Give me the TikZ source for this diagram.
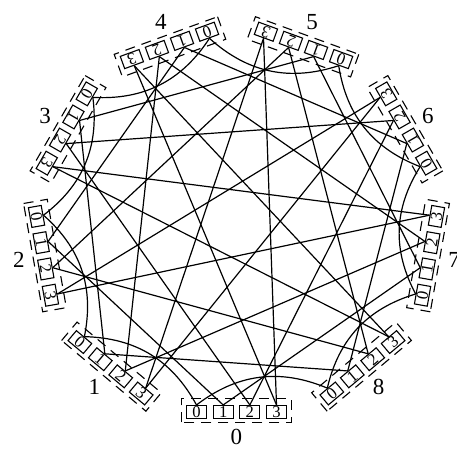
\documentclass[tikz,border=0pt]{standalone}
\usepackage{fontspec}
\setmainfont{Liberation Serif}
\usepackage{tikz}

\begin{document}
\begin{tikzpicture}[
		x=0.5pt, y=0.5pt,
		portbox/.style={
			draw,
			line width=0.55pt,
			minimum width=10pt,
			minimum height=6.5pt,
			inner sep=0pt,
			font=\fontsize{8.3}{8.3}\selectfont
		},
		groupbox/.style={draw, line width=0.55pt, dash pattern=on 5pt off 3.5pt},
		grouplabel/.style={font=\fontsize{11.5}{12}\selectfont},
		link/.style={line width=0.6pt}
	]
		\useasboundingbox (0,0) rectangle (457,451);
		% groups of four routers around the ring
		\foreach \g in {0,...,8}{
			\pgfmathsetmacro{\ang}{270-40*\g}
			\pgfmathsetmacro{\gx}{236.5+196*cos(\ang)}
			\pgfmathsetmacro{\gy}{228+189*sin(\ang)}
			\pgfmathsetmacro{\lx}{236.5+221*cos(\ang)}
			\pgfmathsetmacro{\ly}{228+214*sin(\ang)}
			\begin{scope}[shift={(\gx,\gy)}, rotate=\ang-270, transform shape]
				\draw[groupbox] (-55,-10.5) rectangle (55,13.5);
				\foreach \p in {0,...,3}
					\node[portbox] (g\g-\p) at (-40+26.67*\p,0) {\p};
			\end{scope}
			\node[grouplabel] (label\g) at (\lx,\ly) {\g};
		}

		% router p of group g links to router p of group g+p+1
		\foreach \p in {0,...,3}{
			\foreach \g in {0,...,8}{
				\pgfmathtruncatemacro{\h}{mod(\g+\p+1,9)}
				\ifnum\p=0
					\draw[link] (g\g-\p.north) to[bend right=30] (g\h-\p.north);
				\else
					\draw[link] (g\g-\p.north) -- (g\h-\p.north);
				\fi
			}
		}
	\end{tikzpicture}
\end{document}
